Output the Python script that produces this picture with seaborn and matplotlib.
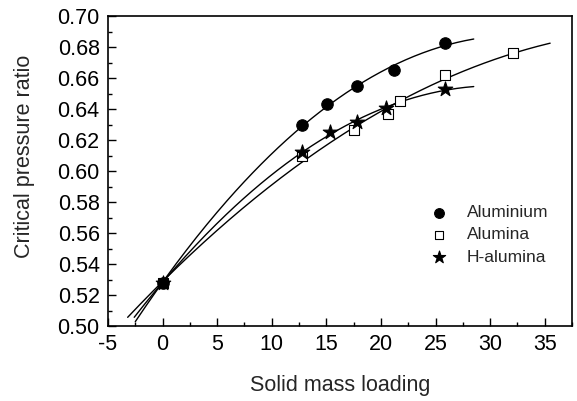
import numpy as np
import pandas as pd
import seaborn as sns
import matplotlib.pyplot as plt
from matplotlib.ticker import MultipleLocator

al_x = [0, 12.8, 15.1, 17.8, 21.2, 25.9]
al_y = [0.528, 0.6295, 0.6432, 0.6548, 0.6654, 0.6824]
alu_x = [0, 12.8, 17.5, 20.65, 21.75, 25.9, 32.1]
alu_y = [0.528, 0.610, 0.6265, 0.6366, 0.6454, 0.6619, 0.6759]
hal_x = [0, 12.8, 15.3, 17.85, 20.5, 25.9]
hal_y = [0.528, 0.6123, 0.6252, 0.6316, 0.6405, 0.6527]

names = ['Aluminium', 'Alumina', 'H-alumina']
# span of each fitted curve
fit_span = {'Aluminium': (-2.5, 28.5), 'Alumina': (-3.2, 35.5), 'H-alumina': (-2.6, 28.5)}

sns.set_style('ticks')
plt.rcParams['font.family'] = ['Liberation Sans', 'DejaVu Sans']
plt.rcParams['axes.unicode_minus'] = False

pts = pd.DataFrame({
    'x': al_x + alu_x + hal_x,
    'y': al_y + alu_y + hal_y,
    'material': ['Aluminium'] * len(al_x) + ['Alumina'] * len(alu_x) + ['H-alumina'] * len(hal_x),
})

# quadratic fit for every series
curves = []
for name, xs, ys in zip(names, [al_x, alu_x, hal_x], [al_y, alu_y, hal_y]):
    c = np.polyfit(xs, ys, 2)
    xx = np.linspace(fit_span[name][0], fit_span[name][1], 200)
    curves.append(pd.DataFrame({'x': xx, 'y': np.polyval(c, xx), 'material': name}))
curves = pd.concat(curves, ignore_index=True)

fig = plt.figure(figsize=(5.77, 4.01), dpi=100)
ax = fig.add_axes([0.1872, 0.187, 0.8041, 0.773])

sns.lineplot(data=curves, x='x', y='y', units='material', estimator=None,
             color='black', lw=1.0, ax=ax, legend=False)

styles = {'Aluminium': dict(marker='o', s=68, facecolor='black', edgecolor='black', zorder=5),
          'Alumina': dict(marker='s', s=52, facecolor='white', edgecolor='black', zorder=3),
          'H-alumina': dict(marker='*', s=120, facecolor='black', edgecolor='black', zorder=4)}
for name in names:
    sub = pts[pts.material == name]
    sns.scatterplot(data=sub, x='x', y='y', ax=ax, label=name, linewidth=0.8,
                    **styles[name])

ax.set_xlim(-5, 37.5)
ax.set_ylim(0.50, 0.70)
ax.xaxis.set_major_locator(MultipleLocator(5))
ax.xaxis.set_minor_locator(MultipleLocator(2.5))
ax.yaxis.set_major_locator(MultipleLocator(0.02))
ax.yaxis.set_minor_locator(MultipleLocator(0.01))
ax.yaxis.set_major_formatter(plt.FormatStrFormatter('%.2f'))
ax.tick_params(which='both', direction='in', top=False, right=False, labelsize=15.5, width=1, colors='black')
ax.tick_params(which='major', length=6, pad=6)
ax.tick_params(which='minor', length=3)
for sp in ax.spines.values():
    sp.set_linewidth(1.2)
    sp.set_color('black')

ax.set_xlabel('Solid mass loading', fontsize=15.5, labelpad=14)
ax.set_ylabel('Critical pressure ratio', fontsize=15.5)
ax.yaxis.set_label_coords(-0.157, 0.548)

leg = ax.legend(loc='upper left', bbox_to_anchor=(0.643, 0.44), frameon=False,
                fontsize=12.5, handletextpad=0.6, labelspacing=0.4, markerscale=0.85)

fig.savefig('out.png', dpi=100)
